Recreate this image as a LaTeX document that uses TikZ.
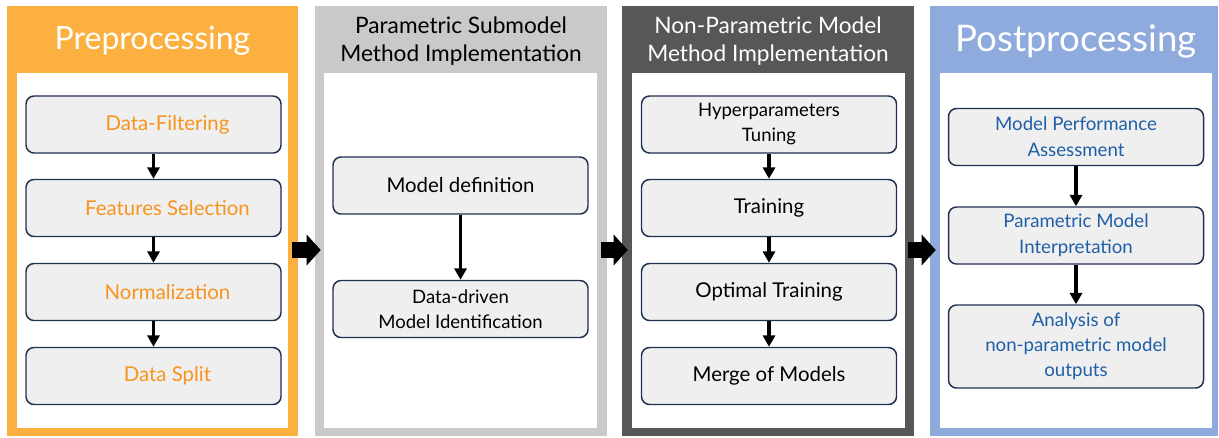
\documentclass[tikz,border=0pt]{standalone}
\usepackage{fontspec}
\setmainfont{Lato}
\usetikzlibrary{arrows.meta,fit}
\definecolor{preorange}{HTML}{FBB040}
\definecolor{pretext}{HTML}{F7941D}
\definecolor{pargray}{HTML}{C9C9C9}
\definecolor{npgray}{HTML}{575757}
\definecolor{postblue}{HTML}{8FAADC}
\definecolor{posttext}{HTML}{1F5FA8}
\definecolor{boxline}{HTML}{1F3050}
\definecolor{boxfill}{HTML}{EFEFEF}
\begin{document}
\begin{tikzpicture}[x=0.75pt,y=-0.75pt,
  panel/.style={inner sep=0pt, fill=#1},
  panelbody/.style={inner sep=0pt, fill=white},
  paneltitle/.style={align=center, font=\fontsize{17}{21}\selectfont},
  stepbox/.style={draw=boxline, fill=boxfill, line width=1.1pt, rounded corners=6pt,
    minimum width=191.25pt, minimum height=42.75pt, align=center,
    font=\fontsize{15.3}{18.75}\selectfont},
  smalltext/.style={font=\fontsize{13.9}{18.75}\selectfont},
  flow/.style={line width=2.8pt, -{Triangle[length=8.5pt,width=9pt]}},
  bigarrow/.style={line width=12pt, -{Triangle[length=10.5pt,width=22.5pt]}}]
\useasboundingbox (0,0) rectangle (1219,437);

\node[fit={(7,6) (298,436)}, panel=preorange] (pre) {};
\node[fit={(17,73) (288,428)}, panelbody] (prebody) {};
\node[paneltitle, text=white, font=\fontsize{24}{28}\selectfont] (pretitle) at (152.5,41) {Preprocessing};
\node[stepbox, text=pretext] (filt) at (153.5,124.5) {\hspace*{21pt}Data-Filtering};
\node[stepbox, text=pretext] (sel) at (153.5,208) {\hspace*{21pt}Features Selection};
\node[stepbox, text=pretext] (norm) at (153.5,292) {\hspace*{21pt}Normalization};
\node[stepbox, text=pretext] (split) at (153.5,376) {\hspace*{21pt}Data Split};
\draw[flow] (filt.south) -- (sel.north);
\draw[flow] (sel.south) -- (norm.north);
\draw[flow] (norm.south) -- (split.north);

\node[fit={(315,6) (607,436)}, panel=pargray] (par) {};
\node[fit={(324,73) (597,428)}, panelbody] (parbody) {};
\node[paneltitle] (partitle) at (461,41) {Parametric Submodel\\Method Implementation};
\node[stepbox] (mdef) at (460.5,185.5) {Model definition};
\node[stepbox, smalltext] (ident) at (460.5,309) {Data-driven\\Model Identification};
\draw[flow] (mdef.south) -- (ident.north);

\node[fit={(622,6) (914,436)}, panel=npgray] (np) {};
\node[fit={(632,73) (905,428)}, panelbody] (npbody) {};
\node[paneltitle, text=white] (nptitle) at (768,41) {Non-Parametric Model\\Method Implementation};
\node[stepbox, smalltext] (hyper) at (769,124.5) {Hyperparameters\\Tuning};
\node[stepbox] (train) at (769,208) {Training};
\node[stepbox] (opt) at (769,292) {Optimal Training};
\node[stepbox] (merge) at (769,376) {Merge of Models};
\draw[flow] (hyper.south) -- (train.north);
\draw[flow] (train.south) -- (opt.north);
\draw[flow] (opt.south) -- (merge.north);

\node[fit={(930,6) (1218,436)}, panel=postblue] (post) {};
\node[fit={(940,73) (1212,428)}, panelbody] (postbody) {};
\node[paneltitle, text=white, font=\fontsize{27.5}{30}\selectfont] (posttitle) at (1076,41) {Postprocessing};
\node[stepbox, text=posttext, font=\fontsize{14}{19.5}\selectfont] (perf) at (1076,137) {Model Performance\\Assessment};
\node[stepbox, text=posttext, font=\fontsize{14}{19.5}\selectfont] (interp) at (1076,235.5) {Parametric Model\\Interpretation};
\node[stepbox, text=posttext, font=\fontsize{14}{18.75}\selectfont, minimum height=62.25pt] (outp) at (1076,346.5) {Analysis of\\non-parametric model\\outputs};
\draw[flow] (perf.south) -- (interp.north);
\draw[flow] (interp.south) -- (outp.north);

\coordinate (mid) at (0,250);
\draw[bigarrow] ([xshift=-4.5pt]pre.east |- mid) -- ([xshift=4.5pt]par.west |- mid);
\draw[bigarrow] ([xshift=-5pt]par.east |- mid) -- ([xshift=4.5pt]np.west |- mid);
\draw[bigarrow] ([xshift=-4.5pt]np.east |- mid) -- ([xshift=4.5pt]post.west |- mid);
\end{tikzpicture}
\end{document}
